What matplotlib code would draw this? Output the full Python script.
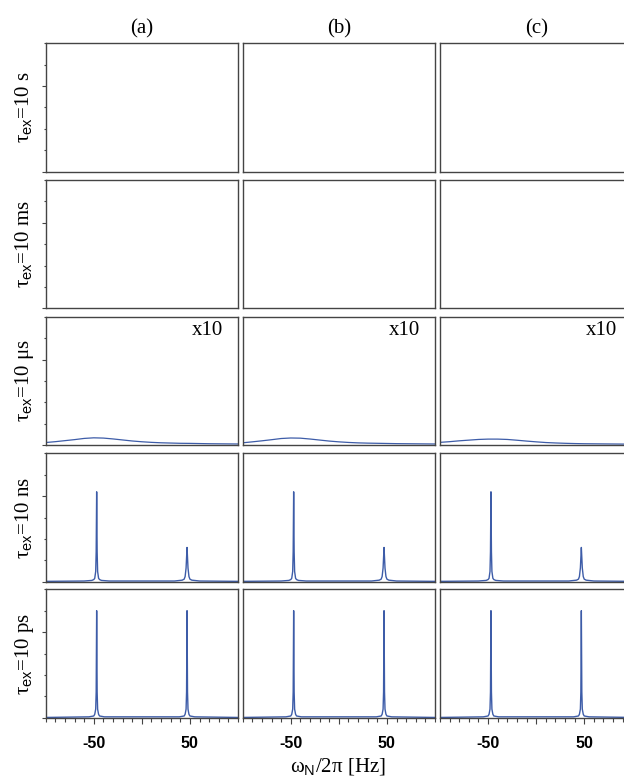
import matplotlib
matplotlib.use("Agg")
import matplotlib.pyplot as plt
from matplotlib.ticker import MultipleLocator, FixedLocator

plt.rcParams["font.family"] = ["Liberation Serif", "DejaVu Serif"]
plt.rcParams["mathtext.fontset"] = "custom"
plt.rcParams["mathtext.rm"] = "Liberation Serif"
plt.rcParams["mathtext.sf"] = "Liberation Sans"

# labels
col_labels = ["(a)", "(b)", "(c)"]
row_labels = [r"τ$_{\mathsf{ex}}$=10 s", r"τ$_{\mathsf{ex}}$=10 ms", r"τ$_{\mathsf{ex}}$=10 μs",
              r"τ$_{\mathsf{ex}}$=10 ns", r"τ$_{\mathsf{ex}}$=10 ps"]
tick_vals = [-50, 0, 50]
tick_labels = ["-50", "", "50"]

# row 3 (10 us): broad hump, shown x10
hump_x = [-100, -90, -80, -70, -60, -50, -40, -30, -20, -10, 0,
          10, 20, 30, 40, 50, 60, 70, 80, 90, 100]
hump_a = [0.030, 0.040, 0.052, 0.064, 0.078, 0.085, 0.082, 0.072, 0.060, 0.048, 0.039,
          0.032, 0.027, 0.024, 0.021, 0.020, 0.018, 0.016, 0.015, 0.014, 0.013]
hump_b = [0.027, 0.038, 0.050, 0.063, 0.077, 0.083, 0.081, 0.071, 0.059, 0.047, 0.038,
          0.031, 0.026, 0.023, 0.021, 0.019, 0.017, 0.016, 0.015, 0.014, 0.013]
hump_c = [0.032, 0.040, 0.050, 0.058, 0.066, 0.070, 0.070, 0.066, 0.057, 0.047, 0.038,
          0.030, 0.025, 0.021, 0.018, 0.016, 0.015, 0.014, 0.013, 0.012, 0.012]

# row 4 (10 ns): two unequal lines
ns_x = [-100, -60, -52, -50, -49, -48, -47.5, -47, -46.5, -46, -45, -44, -42, -34,
        34, 42, 44, 45, 46, 46.5, 47, 47.5, 48, 49, 50, 52, 60, 100]
ns_y = [0.004, 0.008, 0.015, 0.025, 0.04, 0.12, 0.35, 1.05, 0.35, 0.12, 0.04, 0.025, 0.015, 0.008,
        0.008, 0.018, 0.03, 0.06, 0.16, 0.28, 0.40, 0.28, 0.16, 0.06, 0.03, 0.018, 0.008, 0.004]

# row 5 (10 ps): two equal lines
ps_x = [-100, -55, -50, -49, -48, -47.5, -47, -46.5, -46, -45, -44, -39,
        39, 44, 45, 46, 46.5, 47, 47.5, 48, 49, 50, 55, 100]
ps_y = [0.003, 0.01, 0.02, 0.04, 0.1, 0.3, 1.25, 0.3, 0.1, 0.04, 0.02, 0.01,
        0.01, 0.02, 0.04, 0.1, 0.3, 1.25, 0.3, 0.1, 0.04, 0.02, 0.01, 0.003]

humps = [hump_a, hump_b, hump_c]
line_color = "#3d5ca8"
spine_color = "#444444"

W, H = 624, 782
fig = plt.figure(figsize=(W / 100, H / 100), dpi=100)

col_left = [45.7, 242.7, 440.0]
col_w = 192.3
row_top = [43.3, 180.0, 316.7, 453.3, 589.3]
row_h = 128.4

for r in range(5):
    for c in range(3):
        ax = fig.add_axes([col_left[c] / W, (H - row_top[r] - row_h) / H, col_w / W, row_h / H])
        ax.set_xlim(-100, 100)
        ax.set_ylim(0, 1.5)
        for s in ax.spines.values():
            s.set_color(spine_color)
            s.set_linewidth(1.0)

        if r == 2:
            ax.plot(hump_x, humps[c], color=line_color, lw=0.9)
            ax.text(0.92, 0.89, "x10", transform=ax.transAxes, ha="right", va="center", fontsize=15)
        elif r == 3:
            ax.plot(ns_x, ns_y, color=line_color, lw=1.0)
        elif r == 4:
            ax.plot(ps_x, ps_y, color=line_color, lw=1.0)

        # y ticks only on the left column
        if c == 0:
            ax.yaxis.set_major_locator(FixedLocator([0, 1]))
            ax.yaxis.set_minor_locator(MultipleLocator(0.25))
            ax.tick_params(axis="y", which="major", direction="out", length=2.8, width=0.8,
                           color=spine_color, labelleft=False)
            ax.tick_params(axis="y", which="minor", direction="out", length=1.8, width=0.8,
                           color=spine_color)
        else:
            ax.set_yticks([])

        # x ticks only on the bottom row
        if r == 4:
            ax.xaxis.set_major_locator(FixedLocator(tick_vals))
            ax.set_xticklabels(tick_labels, fontfamily="Liberation Sans", fontweight="bold", fontsize=11.5)
            ax.xaxis.set_minor_locator(MultipleLocator(10))
            ax.tick_params(axis="x", which="major", direction="out", length=4.5, width=0.8,
                           color=spine_color, pad=9)
            ax.tick_params(axis="x", which="minor", direction="out", length=2.6, width=0.8,
                           color=spine_color)
        else:
            ax.set_xticks([])

        if r == 0:
            ax.set_title(col_labels[c], fontsize=15, pad=7)

    fig.text(24 / W, (H - row_top[r] - row_h / 2) / H, row_labels[r], rotation=90,
             ha="center", va="center", fontsize=15)

fig.text(338 / W, (H - 767) / H, r"ω$_{\mathsf{N}}$/2π [Hz]", ha="center", va="center", fontsize=15)

fig.savefig("out.png", dpi=100)
